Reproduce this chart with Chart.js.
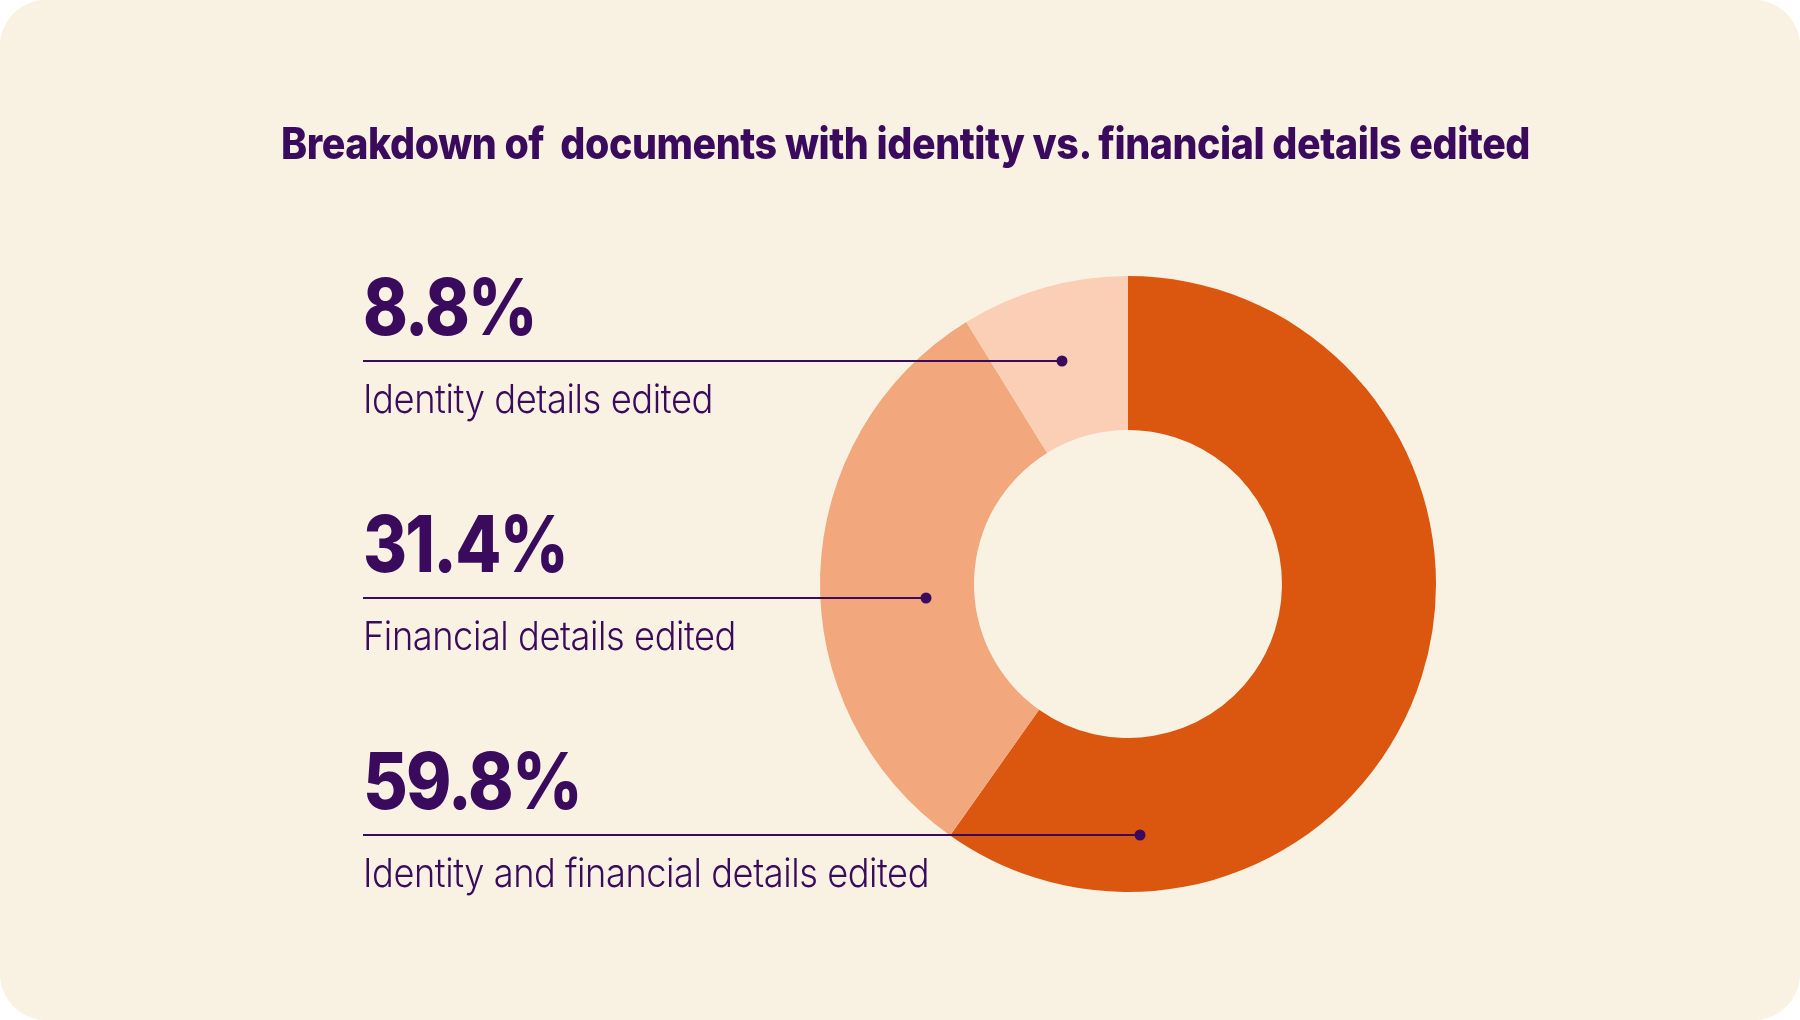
<!DOCTYPE html>
<html>
<head>
<meta charset="utf-8">
<script src="https://cdn.jsdelivr.net/npm/chart.js@4.4.1/dist/chart.umd.min.js"></script>
<style>
  html, body { margin: 0; padding: 0; background: #ffffff; }
  #card {
    position: relative; width: 1800px; height: 1020px;
    background: #f9f2e3; border-radius: 46px; overflow: hidden;
  }
  #chart { position: absolute; left: 0; top: 0; }
  .txt {
    position: absolute; left: 363px; margin: 0; white-space: nowrap;
    color: #3a0a5c; font-family: Inter, "Noto Sans", sans-serif;
    line-height: 1; transform-origin: 0 0;
  }
  .title { font-size: 44px; font-weight: 800; letter-spacing: -0.5px; left: 281px; top: 121px; }
  .big { font-size: 78px; font-weight: 800; letter-spacing: -2px; }
  .lbl { font-size: 40px; font-weight: 300; letter-spacing: -0.5px; }
</style>
</head>
<body>
<div id="card">
  <canvas id="chart" width="1800" height="1020"></canvas>
  <div class="txt title" data-w="1249">Breakdown of&nbsp; documents with identity vs. financial details edited</div>
  <div id="labels"></div>
</div>
<script>
// chart data
const categories = ['Identity and financial details edited', 'Financial details edited', 'Identity details edited'];
const shares = [59.8, 31.4, 8.8];
const sliceColors = ['#db5710', '#f2a77c', '#facfb5'];

// text rows shown on the left, top to bottom (index into categories)
const rowOrder = [2, 1, 0];

// layout of the left-hand annotations
const rowTops = [268, 505, 742];
const rowGap = 111;
const lineOffset = 93;
const bigWidths = [173, 204, 218];
const lblWidths = [350, 373, 566];
const dotX = [1062, 926, 1140];
const lineStartX = 363;
const ink = '#3a0a5c';

const holder = document.getElementById('labels');
rowOrder.forEach((ci, r) => {
  const big = document.createElement('div');
  big.className = 'txt big';
  big.style.top = rowTops[r] + 'px';
  big.dataset.w = bigWidths[r];
  big.textContent = shares[ci].toFixed(1) + '%';
  holder.appendChild(big);

  const lbl = document.createElement('div');
  lbl.className = 'txt lbl';
  lbl.style.top = (rowTops[r] + rowGap) + 'px';
  lbl.dataset.w = lblWidths[r];
  lbl.textContent = categories[ci];
  holder.appendChild(lbl);
});

// squeeze each text to the width it has in the picture
document.querySelectorAll('.txt').forEach(el => {
  const w = el.getBoundingClientRect().width;
  const target = +el.dataset.w;
  if (w > 0 && target) el.style.transform = 'scaleX(' + (target / w) + ')';
});

const leaders = {
  id: 'leaders',
  afterDatasetsDraw(chart) {
    const c = chart.ctx;
    c.save();
    c.strokeStyle = ink;
    c.fillStyle = ink;
    c.lineWidth = 2;
    rowOrder.forEach((ci, r) => {
      const y = rowTops[r] + lineOffset;
      c.beginPath();
      c.moveTo(lineStartX, y);
      c.lineTo(dotX[r], y);
      c.stroke();
      c.beginPath();
      c.arc(dotX[r], y, 5.5, 0, Math.PI * 2);
      c.fill();
    });
    c.restore();
  }
};

new Chart(document.getElementById('chart').getContext('2d'), {
  type: 'doughnut',
  data: {
    labels: categories,
    datasets: [{
      data: shares,
      backgroundColor: sliceColors,
      borderWidth: 0,
      hoverOffset: 0
    }]
  },
  options: {
    responsive: false,
    animation: false,
    cutout: '50%',
    rotation: 0,
    layout: { padding: { left: 820, right: 364, top: 276, bottom: 128 } },
    plugins: {
      legend: { display: false },
      tooltip: { enabled: false },
      title: { display: false }
    }
  },
  plugins: [leaders]
});
</script>
</body>
</html>
